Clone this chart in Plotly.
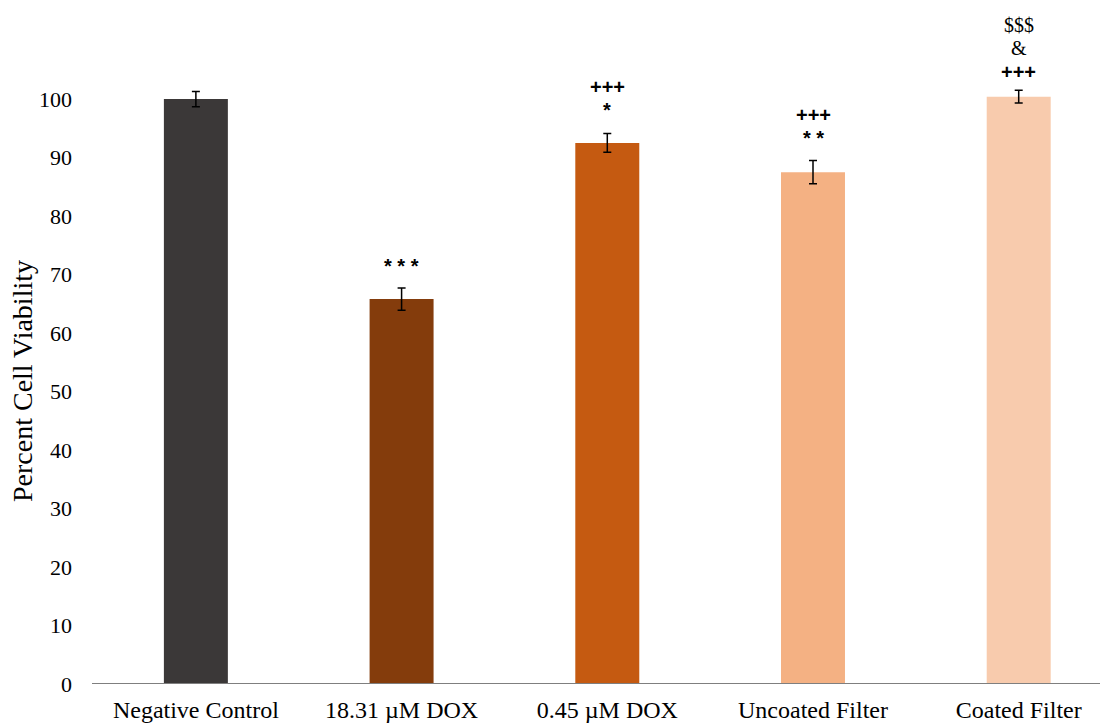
import plotly.graph_objects as go

categories = ["Negative Control", "18.31 µM DOX", "0.45 µM DOX", "Uncoated Filter", "Coated Filter"]
viability = [100.0, 65.8, 92.5, 87.5, 100.4]
errors = [1.3, 1.9, 1.6, 2.0, 1.1]
colors = ["#3B3838", "#843C0C", "#C55A11", "#F4B183", "#F8CBAD"]

# significance markers: (category, text, y position in data units)
sig_cats = ["18.31 µM DOX", "0.45 µM DOX", "0.45 µM DOX", "Uncoated Filter", "Uncoated Filter",
            "Coated Filter", "Coated Filter", "Coated Filter"]
sig_texts = ["* * *", "+++", "*", "+++", "* *", "$$$", "&", "+++"]
sig_y = [71.4, 102.0, 98.2, 97.2, 93.4, 112.6, 108.7, 104.6]

FONT = "Liberation Serif, Times New Roman, serif"
SANS = "Liberation Sans, Arial, sans-serif"

Y_MAX = 110.09

fig = go.Figure()
fig.add_trace(go.Bar(
    x=categories,
    y=viability,
    marker=dict(color=colors, line=dict(width=0)),
    error_y=dict(type="data", array=errors, visible=True, color="black", thickness=1.5, width=4),
    showlegend=False,
))

for c, t, yy in zip(sig_cats, sig_texts, sig_y):
    is_sans = t in ("+++", "*", "* *", "* * *")
    fig.add_annotation(x=c, y=yy / Y_MAX, text=f"<b>{t}</b>" if is_sans else t,
                       showarrow=False, xref="x", yref="paper",
                       font=dict(family=SANS if is_sans else FONT, size=20, color="black"),
                       xanchor="center", yanchor="middle")

# page body has an 8px margin; layout numbers below are in figure coordinates
W, H = 1108, 724
L, R, T, B = 84, 0, 32, 48
pw = W - L - R
ph = H - T - B

fig.add_annotation(text="Percent Cell Viability", xref="paper", yref="paper",
                   x=(14 - L) / pw, y=(H - B - 373) / ph, textangle=-90, showarrow=False,
                   xanchor="center", yanchor="middle",
                   font=dict(family=FONT, size=28, color="black"))

fig.update_layout(
    width=W, height=H,
    margin=dict(l=L, r=R, t=T, b=B, pad=0),
    paper_bgcolor="white", plot_bgcolor="white",
    bargap=0.689,
    font=dict(family=FONT, color="black"),
    xaxis=dict(range=[-0.505, 4.473], showgrid=False, zeroline=False,
               showline=False, ticks="", tickfont=dict(family=FONT, size=24, color="black"),
               ticklabelstandoff=9),
    yaxis=dict(range=[0, Y_MAX], tickmode="array", tickvals=list(range(0, 101, 10)),
               showgrid=False, zeroline=False, showline=False, ticks="",
               tickfont=dict(family=FONT, size=22, color="black"), ticklabelstandoff=19),
)
# baseline axis line
fig.add_shape(type="line", xref="paper", yref="y", x0=0, x1=1, y0=0, y1=0,
              line=dict(color="#7F7F7F", width=2))

fig.write_html("out.html")
